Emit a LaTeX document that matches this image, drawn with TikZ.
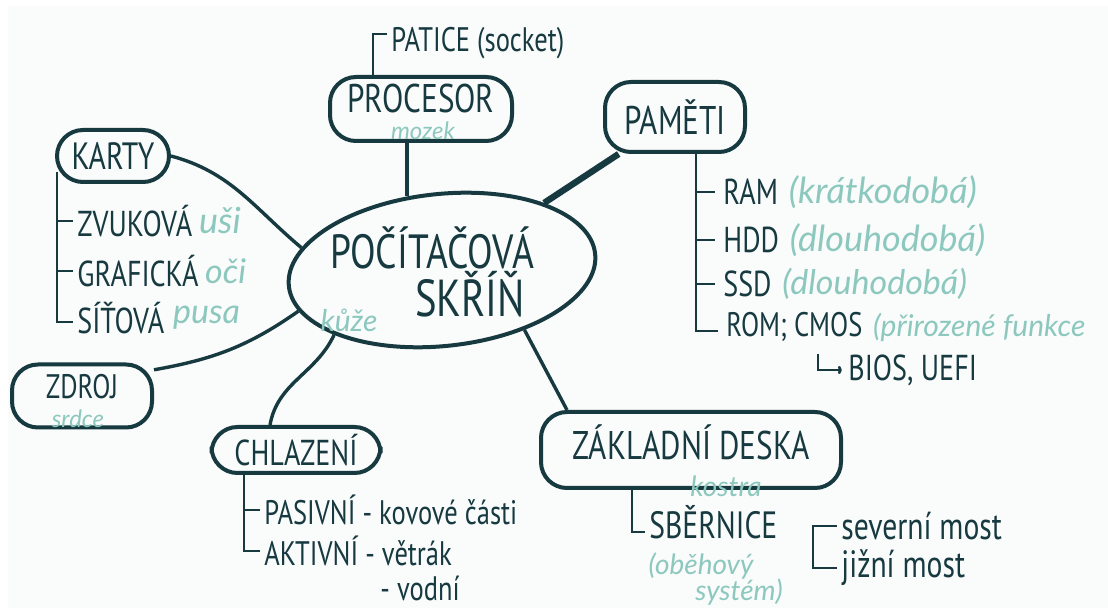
\documentclass[tikz,border=0pt]{standalone}
\usepackage{fontspec}
\usepackage{tikz}
\usetikzlibrary{shapes.geometric,positioning,arrows.meta}
\newfontfamily\hand[FakeStretch=0.78]{PT Sans}
\newfontfamily\cursive{Lato}
\definecolor{ink}{HTML}{163A40}
\definecolor{mint}{HTML}{8CC8BE}
\definecolor{paper}{HTML}{FAFBFB}
\newcommand{\inkfont}[1]{\hand\fontsize{#1}{#1}\selectfont}
\newcommand{\mintfont}[1]{\cursive\itshape\fontsize{#1}{#1}\selectfont}
\tikzstyle{bubble} = [draw=ink, line width=2pt, rounded corners=13pt, text=ink, inner sep=0pt]
\tikzstyle{core} = [draw=ink, line width=2pt, ellipse, inner sep=0pt,
    minimum width=154pt, minimum height=76pt, rotate=6]
\tikzstyle{item} = [text=ink, inner sep=0pt, anchor=west]
\tikzstyle{note} = [text=mint, inner sep=0pt]
\tikzstyle{branch} = [draw=ink, line width=1.7pt]
\tikzstyle{twig} = [draw=ink, line width=1.3pt]

\begin{document}
\begin{tikzpicture}[x=0.5pt,y=-0.5pt]
\useasboundingbox (0,0) rectangle (1108,608);
\fill[paper] (8,6) rectangle (1108,608);

% stred
\node[core] (skrin) at (442,270) {};
\node[text=ink, font=\inkfont{24}] (skrinA) at (432,248) {POČÍTAČOVÁ};
\node[text=ink, font=\inkfont{26}] (skrinB) at (470,294) {SKŘÍŇ};
\node[note, font=\mintfont{15}] (kuze) at (349,320) {kůže};

% procesor
\node[bubble, minimum width=91pt, minimum height=32pt, text depth=11pt, font=\inkfont{20}] (procesor) at (421,109) {PROCESOR};
\node[note, font=\mintfont{12}] (mozek) at (423,131) {mozek};
\draw[branch] ([xshift=-7pt]procesor.south) -- ([xshift=-7pt,yshift=-2pt]procesor.south |- skrin.north);
\node[item, font=\inkfont{17}] (patice) at (391,43) {PATICE (socket)};
\draw[twig] ([xshift=-24pt]procesor.north) |- ([xshift=-2pt,yshift=4.5pt]patice.west);

% pameti
\node[bubble, minimum width=70pt, minimum height=35pt, font=\inkfont{20}] (pameti) at (675,117) {PAMĚTI};
\draw[branch, line width=3.2pt] (pameti) -- (skrin);
\coordinate (pspine) at ([xshift=10.5pt]pameti.south);
\node[item, font=\inkfont{18}] (ram) at (723,192) {RAM};
\node[note, font=\mintfont{18}, right=5pt of ram] (ramN) {(krátkodobá)};
\node[item, font=\inkfont{18}] (hdd) at (723,240) {HDD};
\node[note, font=\mintfont{18}, right=5pt of hdd] (hddN) {(dlouhodobá)};
\node[item, font=\inkfont{18}] (ssd) at (723,284) {SSD};
\node[note, font=\mintfont{17}, right=5pt of ssd] (ssdN) {(dlouhodobá)};
\node[item, font=\inkfont{17}] (rom) at (726,327) {ROM; CMOS};
\node[note, font=\mintfont{15}, right=5pt of rom] (romN) {(přirozené funkce};
\node[item, font=\inkfont{18}] (bios) at (848,370) {BIOS, UEFI};
\draw[twig] (pspine) |- ([xshift=-4pt,yshift=-2pt]rom.west);
\foreach \n in {ram,hdd,ssd}
    \draw[twig] (pspine |- \n.west) -- ([xshift=-4pt]\n.west);
\draw[twig, -{To[length=2pt]}] ([xshift=-15pt,yshift=8pt]bios.west) |- ([xshift=-3pt]bios.west);

% zakladni deska
\node[bubble, minimum width=150pt, minimum height=38pt, text depth=8pt, font=\inkfont{20}] (zakladni) at (691,450) {ZÁKLADNÍ DESKA};
\node[note, font=\mintfont{14}] (kostra) at (726,486) {kostra};
\draw[branch] (skrin.318) -- ([xshift=-62pt]zakladni.north);
\node[item, font=\inkfont{19}] (sbernice) at (649,522) {SBĚRNICE};
\draw[twig] ([xshift=-29.5pt]zakladni.south) |- ([xshift=-2pt,yshift=-5pt]sbernice.west);
\node[note, font=\mintfont{14}] (obehA) at (701,566) {(oběhový};
\node[note, font=\mintfont{14}] (obehB) at (739,592) {systém)};
\node[item, font=\inkfont{19}] (severni) at (841,526) {severní most};
\node[item, font=\inkfont{19}] (jizni) at (841,568) {jižní most};
\draw[twig] ([xshift=-2pt]severni.west) -| ([xshift=-14pt]jizni.west) -- ([xshift=-2pt]jizni.west);

% karty
\node[bubble, minimum width=56pt, minimum height=26pt, font=\inkfont{19}] (karty) at (113,156) {KARTY};
\draw[branch] (karty.east) to[out=-15, in=140] (skrin.165);
\coordinate (kspine) at ([xshift=1pt,yshift=6pt]karty.south west);
\node[item, font=\inkfont{18}] (zvukova) at (77,221) {ZVUKOVÁ};
\node[note, font=\mintfont{18}, right=3pt of zvukova] (zvukovaN) {uši};
\node[item, font=\inkfont{18}] (grafika) at (77,271) {GRAFICKÁ};
\node[note, font=\mintfont{17}, right=3pt of grafika] (grafikaN) {oči};
\node[item, font=\inkfont{18}] (sitova) at (77,318) {SÍŤOVÁ};
\node[note, font=\mintfont{17}, right=4pt of sitova] (sitovaN) {pusa};
\draw[twig] (kspine) |- ([xshift=-2pt,yshift=-2pt]sitova.west);
\foreach \n in {zvukova,grafika}
    \draw[twig] (kspine |- \n.west) -- ([xshift=-2pt]\n.west);

% zdroj
\node[bubble, minimum width=70pt, minimum height=31.5pt, text depth=10pt, font=\inkfont{17}] (zdroj) at (82,396) {ZDROJ};
\node[note, font=\mintfont{12}] (srdce) at (78,419) {srdce};
\draw[branch] (zdroj.20) to[out=10, in=-145] (skrin.190);

% chlazeni
\node[bubble, minimum width=84.5pt, minimum height=23pt, font=\inkfont{18}] (chlazeni) at (296,450) {CHLAZENÍ};
\draw[branch] (skrin.205) to[out=-115, in=80] ([xshift=-13pt]chlazeni.north);
\coordinate (cspine) at ([xshift=-26pt]chlazeni.south);
\node[item, font=\inkfont{17}] (pasivni) at (264,510) {PASIVNÍ - kovové části};
\node[item, font=\inkfont{17}] (aktivni) at (264,551) {AKTIVNÍ - větrák};
\node[item, font=\inkfont{17}] (vodni) at (380,588) {- vodní};
\draw[twig] (cspine) |- ([xshift=-2pt]aktivni.west);
\draw[twig] (cspine |- pasivni.west) -- ([xshift=-2pt]pasivni.west);
\end{tikzpicture}
\end{document}
